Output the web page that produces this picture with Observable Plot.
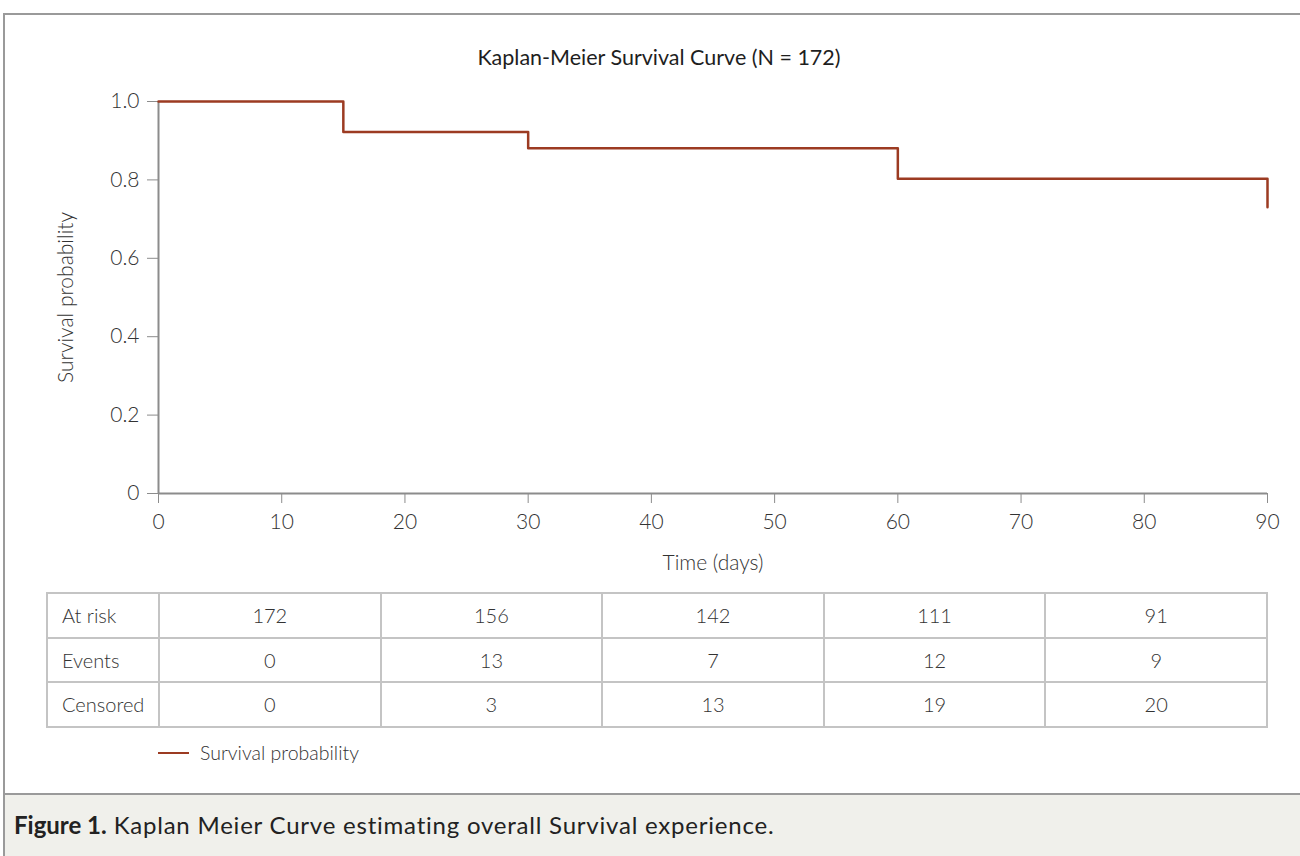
<!DOCTYPE html>
<html><head><meta charset="utf-8">
<script src="https://cdn.jsdelivr.net/npm/d3@7"></script>
<script src="https://cdn.jsdelivr.net/npm/@observablehq/plot@0.6"></script>
<style>
body{margin:0;background:#fff;font-family:Lato,"Open Sans",sans-serif;color:#2a2a2a;}
#root{position:relative;width:1300px;height:856px;overflow:hidden;}
#frame{position:absolute;left:3px;top:13px;width:1320px;height:900px;border-top:2px solid #9a9a9a;border-left:2px solid #9a9a9a;}
#title{position:absolute;top:44px;left:0;width:1318px;text-align:center;font-size:21.5px;font-weight:400;color:#1e1e1e;}
#chart{position:absolute;left:0;top:80px;}
#risk{position:absolute;left:46px;top:592px;border-collapse:collapse;table-layout:fixed;width:1222px;font-size:20px;color:#333;}
#risk td{border:2px solid #c4c4c4;height:42.5px;padding:0;text-align:center;font-weight:300;}
#risk td.lab{text-align:left;padding-left:14px;}
#legend{position:absolute;left:158px;top:741px;font-size:19.5px;color:#333;display:flex;align-items:center;font-weight:300;}
#legend .sw{width:31px;height:2px;margin-right:11px;}
#caption{position:absolute;left:3px;top:793px;width:1320px;height:80px;background:#f0f0eb;border-top:2px solid #9a9a9a;border-left:2px solid #9a9a9a;}
#caption p{margin:0;position:absolute;left:9px;top:15px;font-size:24px;color:#222;white-space:nowrap;}
#caption p span{letter-spacing:0.78px;}
</style></head>
<body><div id="root">
<div id="frame"></div>
<div id="title"></div>
<div id="chart"></div>
<table id="risk"><colgroup><col style="width:112px"><col style="width:221.6px"><col style="width:221.6px"><col style="width:221.6px"><col style="width:221.6px"><col style="width:221.6px"></colgroup></table>
<div id="legend"></div>
<div id="caption"><p></p></div>
</div>
<script>
const titleText = "Kaplan-Meier Survival Curve (N = 172)";
const times = [0, 15, 30, 60, 90];
const survival = [1.0, 0.922, 0.881, 0.803, 0.730];
const xTicks = [0, 10, 20, 30, 40, 50, 60, 70, 80, 90];
const yTicks = [0, 0.2, 0.4, 0.6, 0.8, 1.0];
const rowLabels = ["At risk", "Events", "Censored"];
const atRisk = [172, 156, 142, 111, 91];
const events = [0, 13, 7, 12, 9];
const censored = [0, 3, 13, 19, 20];
const seriesName = "Survival probability";
const lineColor = "#9c3b22";
const captionBold = "Figure 1.";
const captionText = " Kaplan Meier Curve estimating overall Survival experience.";

document.getElementById("title").textContent = titleText;

const data = times.map((t, i) => ({time: t, surv: survival[i]}));
const axisColor = "#8c8c8c";

const chart = Plot.plot({
  width: 1300, height: 500,
  marginLeft: 158, marginRight: 33, marginTop: 21, marginBottom: 87,
  style: {fontSize: "21px", fontFamily: "Lato, 'Open Sans', sans-serif", color: "#333", background: "transparent", fontWeight: 300},
  x: {domain: [0, 90]},
  y: {domain: [0, 1]},
  marks: [
    Plot.axisX({ticks: xTicks, tickSize: 10, tickPadding: 11, stroke: axisColor, fill: "#333", fontSize: 21,
      label: "Time (days)", labelAnchor: "center", labelOffset: 76, labelArrow: "none"}),
    Plot.axisY({ticks: yTicks, tickSize: 11, tickPadding: 8, stroke: axisColor, fill: "#333", fontSize: 21,
      tickFormat: d => d === 0 ? "0" : d.toFixed(1),
      label: "Survival probability", labelAnchor: "center", labelOffset: 100, labelArrow: "none"}),
    Plot.ruleY([0], {stroke: axisColor, strokeWidth: 2}),
    Plot.ruleX([0], {y1: 0, y2: 1, stroke: axisColor, strokeWidth: 2}),
    Plot.line(data, {x: "time", y: "surv", curve: "step-after", stroke: lineColor, strokeWidth: 2.5})
  ]
});
document.getElementById("chart").appendChild(chart);

const table = document.getElementById("risk");
[atRisk, events, censored].forEach((row, r) => {
  const tr = document.createElement("tr");
  const lab = document.createElement("td");
  lab.className = "lab"; lab.textContent = rowLabels[r]; tr.appendChild(lab);
  row.forEach(v => {
    const td = document.createElement("td");
    td.textContent = v; tr.appendChild(td);
  });
  table.appendChild(tr);
});

const legend = document.getElementById("legend");
legend.innerHTML = `<div class="sw" style="background:${lineColor}"></div><span></span>`;
legend.querySelector("span").textContent = seriesName;

const cap = document.querySelector("#caption p");
const b = document.createElement("b"); b.textContent = captionBold;
const s = document.createElement("span"); s.textContent = captionText;
cap.appendChild(b); cap.appendChild(s);
</script>
</body></html>
